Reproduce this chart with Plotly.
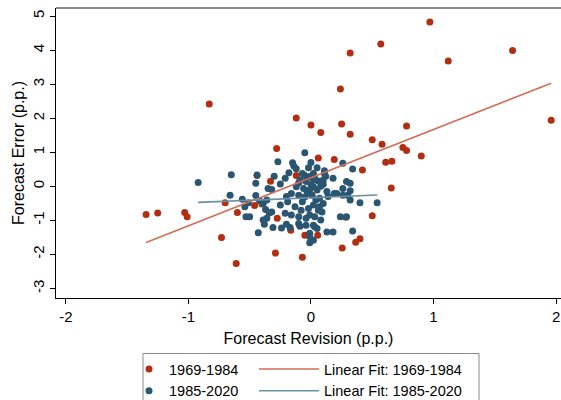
import plotly.graph_objects as go
import numpy as np

# ---- data ----
series_names = ["1969-1984", "1985-2020"]
fit_names = ["Linear Fit: 1969-1984", "Linear Fit: 1985-2020"]
x_title = "Forecast Revision (p.p.)"
y_title = "Forecast Error (p.p.)"

early_x = [0.97, 0.57, 1.645, 0.32, 1.12, 0.24, -0.83, -0.12, 1.96, 0.25,
           0.00, 0.78, 0.08, 0.32, 0.50, 0.58, 0.75, -0.28, 0.78, 0.90,
           0.06, 0.19, 0.61, 0.66, 0.42, -0.44, -0.12, -0.33, 0.655, -0.70,
           -0.46, -0.40, -0.60, -1.345, -1.25, -1.03, -1.01, 0.50, 0.285, -0.275,
           -0.165, -0.73, -0.05, 0.055, 0.40, 0.365, 0.255, -0.29, -0.07, -0.61]
early_y = [4.83, 4.18, 3.99, 3.92, 3.68, 2.86, 2.42, 2.01, 1.94, 1.83,
           1.80, 1.77, 1.58, 1.53, 1.37, 1.24, 1.14, 1.11, 1.05, 0.89,
           0.83, 0.79, 0.71, 0.74, 0.48, 0.32, 0.32, 0.15, -0.05, -0.48,
           -0.56, -0.52, -0.77, -0.83, -0.78, -0.77, -0.89, -0.86, -0.91, -0.94,
           -1.29, -1.50, -1.44, -1.44, -1.54, -1.64, -1.81, -1.96, -2.08, -2.27]

late_x = [-0.92, -0.65, -0.66, -0.56, -0.51, -0.53, -0.50, -0.45, -0.45, -0.42,
          -0.43, -0.30, -0.27, -0.25, -0.21, -0.35, -0.32, -0.36, -0.37, -0.34,
          -0.39, -0.36, -0.38, -0.31, -0.24, -0.17, -0.20, -0.14, -0.12, -0.05,
          -0.05, -0.02, 0.01, 0.03, 0.06, 0.11, 0.10, 0.26, 0.29, 0.32,
          0.19, 0.30, 0.32, 0.40, 0.54, 0.24, 0.29, 0.34, 0.13, 0.18,
          0.08, -0.01, 0.03, -0.09, -0.15, -0.44, -0.07, -0.09, -0.04, 0.02,
          -0.12, -0.06, -0.01, -0.16, -0.10, -0.05, 0.01, -0.54, -0.39, -0.32,
          -0.19, -0.13, -0.08, -0.02, 0.02, -0.21, -0.16, -0.10, -0.04, -0.10,
          -0.04, -0.01, 0.02, 0.34, 0.11, 0.02, 0.10, 0.18, 0.02, 0.05,
          0.21, 0.26, 0.32, 0.26, 0.07, 0.10, 0.06, 0.07, 0.09, -0.01,
          0.03, 0.02, 0.05, -0.01, 0.00, -0.03, 0.04, -0.07, 0.08, -0.10,
          0.13, 0.14, -0.20, -0.25, 0.12, -0.18, 0.05, 0.00, -0.02]
late_y = [0.11, 0.34, -0.26, -0.38, -0.48, -0.89, -0.89, 0.09, -0.27, -0.42,
          -1.36, 0.30, 0.72, 0.07, 0.24, -0.06, -0.09, -0.40, -0.68, -0.78,
          -0.99, -0.94, -1.11, -1.21, -1.22, -1.21, -1.11, 0.60, 0.52, 0.99,
          0.32, 0.28, 0.32, 0.24, 0.16, 0.46, 0.06, 0.68, 0.14, 0.09,
          -0.21, -0.26, -0.40, -0.48, -0.48, -0.89, -0.89, -1.31, -1.34, -1.34,
          -0.99, -1.66, -1.19, -1.17, 0.69, 0.33, 0.38, 0.19, 0.14, 0.19,
          -0.01, -0.06, -0.11, -0.21, -0.26, -0.31, -0.26, -0.60, -0.50, -0.75,
          -0.45, -0.60, -0.70, -0.65, -0.55, -0.79, -0.84, -0.89, -0.94, -1.09,
          -1.14, -1.48, -1.58, 0.51, 0.38, 0.38, 0.19, 0.24, -0.01, -0.11,
          -0.21, -0.06, -0.13, -0.26, -0.35, -0.50, -0.70, -0.60, -0.75, -0.84,
          -0.89, -1.14, -1.24, -1.38, 0.05, -0.20, -0.40, -0.45, 0.00, 0.10,
          -0.15, -0.30, -0.30, -0.55, 0.30, 0.40, 0.55, 0.70, 0.55]

fit_slope = [1.415, 0.147]
fit_intercept = [0.256, -0.335]

x_ticks = [-2, -1, 0, 1, 2]
x_tick_labels = ["-2", "-1", "0", "1", "2"]
y_ticks = [-3, -2, -1, 0, 1, 2, 3, 4, 5]
y_tick_labels = ["-3", "-2", "-1", "0", "1", "2", "3", "4", "5"]

# ---- styles ----
RED = "#B32E10"
BLUE = "#2B5672"
RED_LINE = "#D46C57"
BLUE_LINE = "#6C8FA3"
FONT = "Liberation Sans, Arial, sans-serif"

fig = go.Figure()
fig.add_trace(go.Scatter(x=early_x, y=early_y, mode="markers", name=series_names[0],
                         marker=dict(color=RED, size=7), legend="legend"))
fig.add_trace(go.Scatter(x=late_x, y=late_y, mode="markers", name=series_names[1],
                         marker=dict(color=BLUE, size=7), legend="legend"))

for xs_src, slope, icpt, nm, col in [(early_x, fit_slope[0], fit_intercept[0], fit_names[0], RED_LINE),
                                     (late_x, fit_slope[1], fit_intercept[1], fit_names[1], BLUE_LINE)]:
    xs = np.array([min(xs_src), max(xs_src)])
    ys = slope * xs + icpt
    fig.add_trace(go.Scatter(x=xs, y=ys, mode="lines", name=nm,
                             line=dict(color=col, width=1.6), legend="legend2"))

L, T, B = 56, 8, 102
W, H = 561, 400
pw = W - L
ph = H - T - B

def px_x(p):
    return (p - L) / pw

def px_y(p):
    return (H - B - p) / ph

axis_common = dict(showgrid=False, zeroline=False, showline=True, linecolor="black",
                   linewidth=1, ticks="outside", ticklen=5, tickwidth=1, tickcolor="black",
                   tickfont=dict(size=15, color="black", family=FONT), automargin=True)

fig.update_layout(
    width=W, height=H,
    margin=dict(l=L, r=0, t=T, b=B, pad=0, autoexpand=False),
    paper_bgcolor="white", plot_bgcolor="white",
    font=dict(family=FONT, color="black"),
    xaxis=dict(range=[-2.08, 2.04], tickvals=x_ticks, ticktext=x_tick_labels,
               title=dict(text=x_title, font=dict(size=16), standoff=8),
               **axis_common),
    yaxis=dict(range=[-3.28, 5.24], tickvals=y_ticks, ticktext=y_tick_labels, tickangle=-90,
               **axis_common),
    annotations=[
        dict(text=y_title, xref="paper", yref="paper", x=px_x(18), y=0.5,
             xanchor="center", yanchor="middle", textangle=-90, showarrow=False,
             font=dict(size=16, family=FONT, color="black")),
    ],
    legend=dict(xref="container", yref="container",
                x=129 / W, y=1 - 353 / H, xanchor="left", yanchor="top",
                orientation="v", bgcolor="rgba(0,0,0,0)", borderwidth=0,
                font=dict(size=14.5, family=FONT), itemwidth=30, tracegroupgap=0),
    legend2=dict(xref="container", yref="container",
                 x=254 / W, y=1 - 353 / H, xanchor="left", yanchor="top",
                 orientation="v", bgcolor="rgba(0,0,0,0)", borderwidth=0,
                 font=dict(size=14.5, family=FONT), itemwidth=60, tracegroupgap=0),
    shapes=[
        dict(type="rect", xref="paper", yref="paper",
             x0=px_x(143), x1=px_x(479), y0=px_y(353.5), y1=px_y(412),
             line=dict(color="#8a8a8a", width=1), fillcolor="rgba(0,0,0,0)"),
        dict(type="line", xref="paper", yref="paper", x0=0, x1=1, y0=1, y1=1,
             line=dict(color="#8c8c8c", width=2)),
    ],
)

fig.write_html("out.html")
